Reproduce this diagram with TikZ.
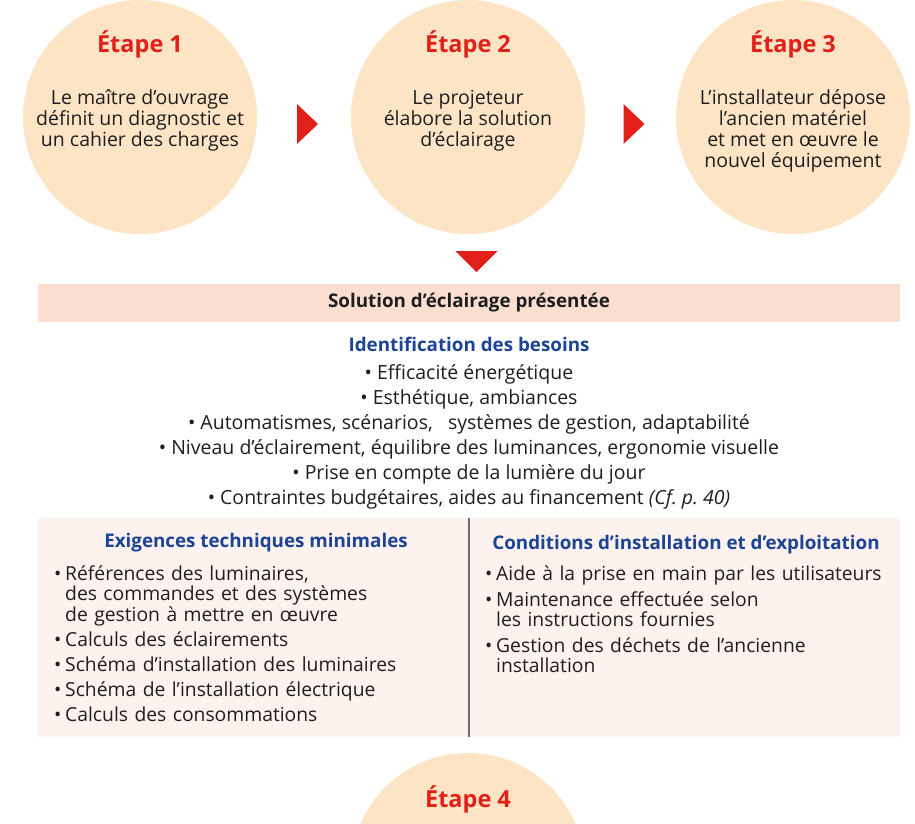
\documentclass[tikz,border=0pt]{standalone}
\usepackage{fontspec}
\setmainfont{Open Sans}
\usetikzlibrary{positioning,calc}
\definecolor{peche}{RGB}{253,228,197}
\definecolor{rose}{RGB}{250,223,209}
\definecolor{rosepale}{RGB}{253,242,238}
\definecolor{rouge}{RGB}{226,32,26}
\definecolor{bleu}{RGB}{28,68,148}
\definecolor{encre}{RGB}{30,30,30}
\definecolor{filet}{RGB}{115,110,110}
\newcommand{\puce}[1]{\par\hangindent=11pt\hangafter=1\noindent\makebox[11pt][l]{\textbullet}#1}
\tikzset{
    etape/.style={circle, fill=peche, minimum size=234pt, inner sep=0pt},
    titre/.style={font=\bfseries\fontsize{23.5}{26}\selectfont, text=rouge},
    corps/.style={anchor=north, align=center, text=encre, inner sep=0pt, font=\fontsize{19.5}{21}\selectfont},
    fleche/.style={fill=rouge},
    bande/.style={fill=rose, minimum width=862pt, minimum height=38pt, inner sep=0pt, text=encre, font=\bfseries\fontsize{18.8}{20}\selectfont},
    cadre/.style={fill=rosepale, minimum width=862pt, minimum height=219pt, inner sep=0pt},
    rubrique/.style={text=bleu, inner sep=0pt, font=\bfseries\fontsize{18.8}{20}\selectfont},
    liste/.style={anchor=north west, align=left, text width=420pt, inner sep=0pt, text=encre, font=\fontsize{19.3}{20.5}\selectfont}
}
\frenchspacing
\begin{document}
\begin{tikzpicture}[x=1pt, y=-1pt]
    \useasboundingbox (0,0) rectangle (915,823);
    \clip (0,0) rectangle (915,823);
    % les quatre etapes
    \node[etape] (e1) at (140,117) {};
    \node[etape] (e2) at (468,117) {};
    \node[etape] (e3) at (793,117) {};
    \node[etape] (e4) at (468,870) {};
    \node[titre] (t1) at ([yshift=-45pt]e1.north) {Étape 1};
    \node[titre] (t2) at ([yshift=-45pt]e2.north) {Étape 2};
    \node[titre] (t3) at ([yshift=-45pt]e3.north) {Étape 3};
    \node[titre] (t4) at ([yshift=-47pt]e4.north) {Étape 4};
    \node[corps] (c1) at ([yshift=-90pt]e1.north) {Le maître d’ouvrage\\définit un diagnostic et\\un cahier des charges};
    \node[corps] (c2) at ([yshift=-90pt]e2.north) {Le projeteur\\élabore la solution\\d’éclairage};
    \node[corps] (c3) at ([yshift=-90pt]e3.north) {L’installateur dépose\\l’ancien matériel\\et met en œuvre le\\nouvel équipement};

    % fleches entre les etapes
    \coordinate (f1) at ($(e1.east)!0.5!(e2.west)+(-7,7)$);
    \coordinate (f2) at ($(e2.east)!0.5!(e3.west)+(-7,7)$);
    \fill[fleche] (f1) ++(0,-20) -- ++(21,20) -- ++(-21,20) -- cycle;
    \fill[fleche] (f2) ++(0,-20) -- ++(21,20) -- ++(-21,20) -- cycle;

    % solution presentee
    \node[bande] (bandeau) at (469,303) {Solution d’éclairage présentée};
    \coordinate (f3) at ($(e2.south)!0.5!(bandeau.north)+(8,3)$);
    \fill[fleche] (f3) ++(-21,-11) -- ++(42,0) -- ++(-21,21) -- cycle;

    \node[rubrique] (besoins) at (469,344) {Identification des besoins};
    \node[corps, below=13pt of besoins, font=\fontsize{19.5}{25}\selectfont] (lbesoins) {%
        \textbullet\ Efficacité énergétique\\
        \textbullet\ Esthétique, ambiances\\
        \textbullet\ Automatismes, scénarios, \ \ systèmes de gestion, adaptabilité\\
        \textbullet\ Niveau d’éclairement, équilibre des luminances, ergonomie visuelle\\
        \textbullet\ Prise en compte de la lumière du jour\\
        \textbullet\ Contraintes budgétaires, aides au financement \textit{(Cf. p. 40)}};

    % exigences et conditions
    \node[cadre] (cadre) at (469,627.5) {};
    \draw[filet, line width=1.2pt] (cadre.north) -- (cadre.south);
    \node[rubrique] (exig) at (256,543) {Exigences techniques minimales};
    \node[rubrique] (cond) at (686,545) {Conditions d’installation et d’exploitation};
    \node[liste] (lexig) at (54,555) {\setlength{\parskip}{4.5pt}\hyphenpenalty=10000%
        \puce{Références des luminaires,\newline des commandes et des systèmes\newline de gestion à mettre en œuvre}
        \puce{Calculs des éclairements}
        \puce{Schéma d’installation des luminaires}
        \puce{Schéma de l’installation électrique}
        \puce{Calculs des consommations}\par};
    \node[liste] (lcond) at (485,555) {\setlength{\parskip}{5pt}\hyphenpenalty=10000%
        \puce{Aide à la prise en main par les utilisateurs}
        \puce{Maintenance effectuée selon\newline les instructions fournies}
        \puce{Gestion des déchets de l’ancienne\newline installation}\par};
\end{tikzpicture}
\end{document}
